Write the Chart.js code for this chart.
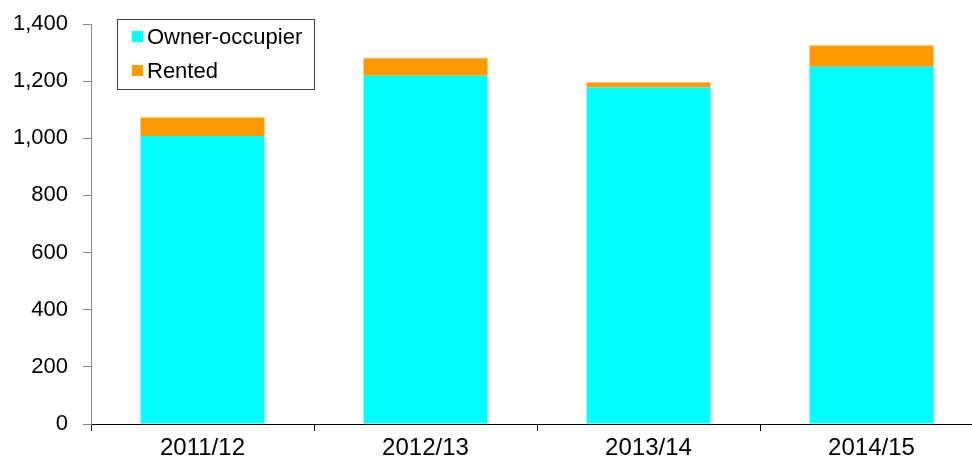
<!DOCTYPE html>
<html>
<head>
<meta charset="utf-8">
<script src="https://cdn.jsdelivr.net/npm/chart.js@4"></script>
<style>
  html, body { margin: 0; padding: 0; background: #fff; overflow: hidden; }
  #wrap { width: 984px; height: 463px; position: relative; }
</style>
</head>
<body>
<div id="wrap"><canvas id="c" width="984" height="463"></canvas></div>
<script>
// Households by tenure, per year
const years = ['2011/12', '2012/13', '2013/14', '2014/15'];
const ownerOccupier = [1008, 1219, 1178, 1250];
const rented = [65, 61, 17, 75];
const yTicks = [0, 200, 400, 600, 800, 1000, 1200, 1400];

const FONT = '"Liberation Sans", Arial, sans-serif';

// Boxed legend drawn in the upper-left of the plot
const boxedLegend = {
  id: 'boxedLegend',
  afterDraw(chart) {
    const ctx = chart.ctx;
    const x = 117.5, y = 19.5, w = 197, h = 70;
    ctx.save();
    ctx.fillStyle = '#fff';
    ctx.fillRect(x, y, w, h);
    ctx.strokeStyle = '#404040';
    ctx.lineWidth = 1;
    ctx.strokeRect(x, y, w, h);
    ctx.font = '22px ' + FONT;
    ctx.textBaseline = 'middle';
    chart.data.datasets.forEach((ds, i) => {
      const cy = 37 + i * 34;
      ctx.fillStyle = ds.backgroundColor;
      ctx.fillRect(132, cy - 6, 11, 11);
      ctx.fillStyle = '#000';
      ctx.fillText(ds.label, 147, cy + 1);
    });
    ctx.restore();
  }
};

new Chart(document.getElementById('c'), {
  type: 'bar',
  data: {
    labels: years,
    datasets: [
      { label: 'Owner-occupier', data: ownerOccupier, backgroundColor: '#00FFFF' },
      { label: 'Rented', data: rented, backgroundColor: '#FF9900' }
    ]
  },
  options: {
    responsive: false,
    animation: false,
    devicePixelRatio: 1,
    layout: { padding: { top: 24, right: 1, bottom: 0, left: 0 } },
    datasets: { bar: { categoryPercentage: 1, barPercentage: 0.556 } },
    plugins: { legend: { display: false }, tooltip: { enabled: false } },
    scales: {
      x: {
        stacked: true,
        grid: { offset: true, drawOnChartArea: false, color: '#000', tickLength: 7 },
        border: { color: '#000', width: 1 },
        ticks: { color: '#000', font: { family: FONT, size: 24 }, padding: 3, maxRotation: 0 },
        afterFit(s) { s.height = 39; s.paddingLeft = 0; s.paddingRight = 0; }
      },
      y: {
        stacked: true,
        min: 0,
        max: 1400,
        afterBuildTicks(s) { s.ticks = yTicks.map(v => ({ value: v })); },
        grid: { drawOnChartArea: false, color: '#868686', tickLength: 8 },
        border: { color: '#868686', width: 1 },
        ticks: {
          color: '#000',
          font: { family: FONT, size: 22 },
          padding: 15,
          callback: v => v.toLocaleString('en-US')
        },
        afterFit(s) { s.width = 91; s.paddingTop = 0; s.paddingBottom = 0; }
      }
    }
  },
  plugins: [boxedLegend]
});
</script>
</body>
</html>
